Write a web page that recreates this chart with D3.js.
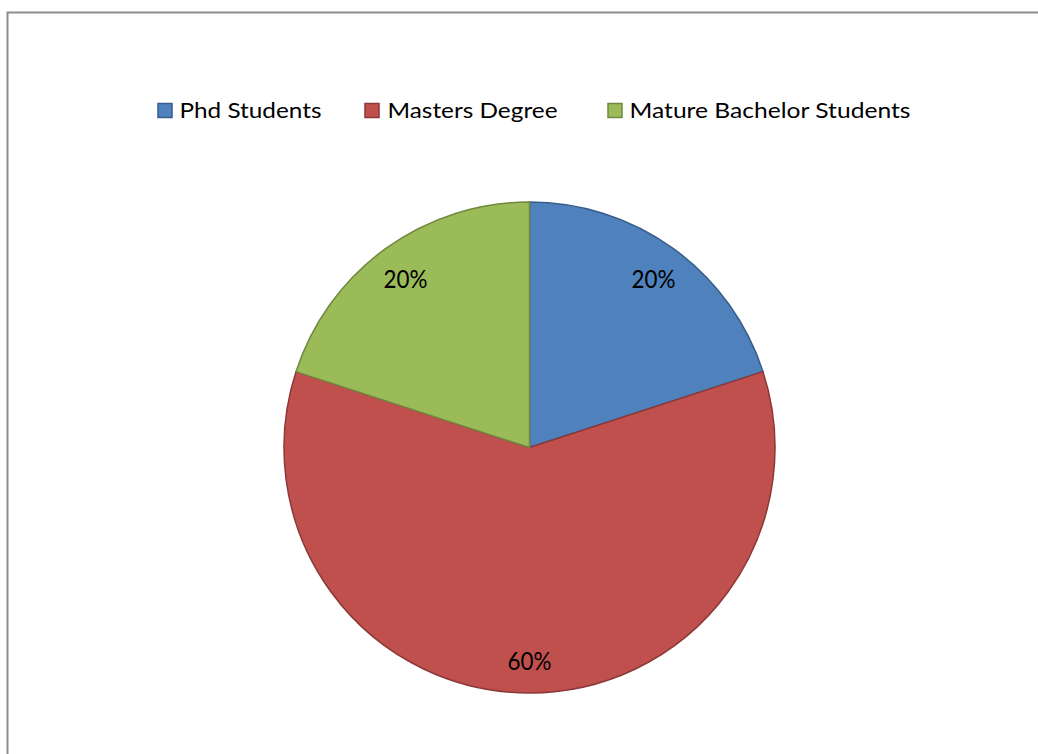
<!DOCTYPE html>
<html><head><meta charset="utf-8">
<script src="https://cdn.jsdelivr.net/npm/d3@7"></script>
<style>html,body{margin:0;padding:0;background:#fff;}svg{display:block;}</style>
</head><body>
<svg id="c" width="1038" height="754"></svg>
<script>
const categories = ["Phd Students", "Masters Degree", "Mature Bachelor Students"];
const values = [20, 60, 20];
const labels = ["20%", "60%", "20%"];
const fills = ["#4F81BD", "#C0504D", "#9BBB59"];
const strokes = ["#385D8A", "#8C3836", "#71893F"];

const svg = d3.select("#c");
const font = "Lato, 'Open Sans', sans-serif";

// chart frame
svg.append("path").attr("d", "M7.5,754 L7.5,12.5 L1038,12.5")
  .attr("fill", "none").attr("stroke", "#8c8c8c").attr("stroke-width", 2);

const cx = 529.5, cy = 447.5, r = 245.5;
const pie = d3.pie().sort(null).value(d => d)(values);
const arc = d3.arc().innerRadius(0).outerRadius(r);
const labelArc = d3.arc().innerRadius(211).outerRadius(211);
const g = svg.append("g").attr("transform", `translate(${cx},${cy})`);
g.selectAll("path.s").data(pie).join("path").attr("class", "s")
  .attr("d", arc).attr("fill", (d, i) => fills[i]).attr("stroke", (d, i) => strokes[i])
  .attr("stroke-width", 1.5).attr("stroke-linejoin", "round");
g.selectAll("text.l").data(pie).join("text").attr("class", "l")
  .attr("x", d => labelArc.centroid(d)[0]).attr("y", d => labelArc.centroid(d)[1] + 11)
  .attr("text-anchor", "middle")
  .attr("font-family", font).attr("font-size", 24.5).attr("fill", "#000")
  .attr("textLength", 44).attr("lengthAdjust", "spacingAndGlyphs")
  .text((d, i) => labels[i]);

// legend
const legX = [158, 365, 608];
const textX = [179.5, 387.5, 629.5];
const textW = [142, 170, 281];
const lg = svg.append("g");
categories.forEach((c, i) => {
  lg.append("rect").attr("x", legX[i]).attr("y", 103.5).attr("width", 14).attr("height", 14)
    .attr("fill", fills[i]).attr("stroke", strokes[i]).attr("stroke-width", 1.5);
  lg.append("text").attr("x", textX[i]).attr("y", 118.3)
    .attr("font-family", font).attr("font-size", 21.5).attr("fill", "#000")
    .attr("textLength", textW[i]).attr("lengthAdjust", "spacingAndGlyphs").text(c);
});
</script>
</body></html>
